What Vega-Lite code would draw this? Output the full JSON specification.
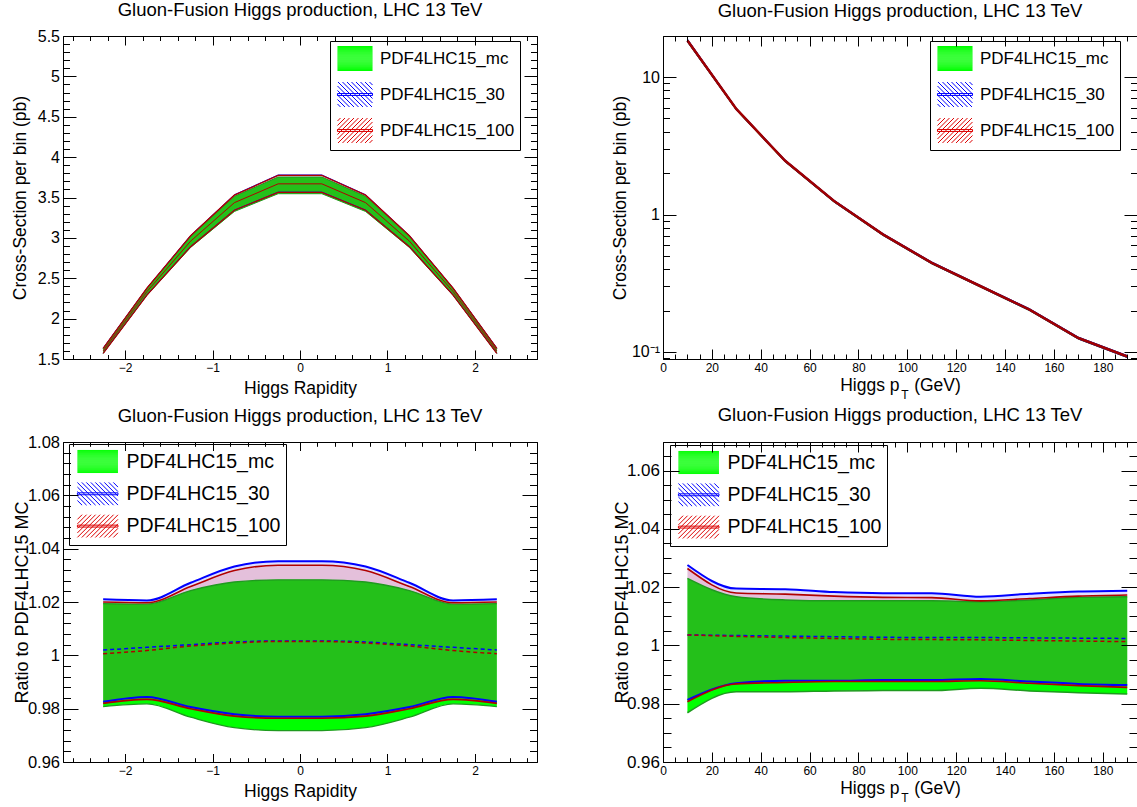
{
"$schema":"https://vega.github.io/schema/vega-lite/v6.json",
"autosize":{"type":"none"},
"padding":{"left":63,"top":36,"right":1074,"bottom":771},
"background":"white",
"columns":2,
"spacing":{"row":83,"column":126},
"bounds":"flush",
"resolve":{"scale":{"color":"independent","shape":"independent"},"legend":{"color":"independent","shape":"independent"}},
"datasets":{
"rapxs":[
{"x":-2.25,"mc_lo":1.569,"mc_hi":1.631,"mc_c":1.6,"p30_lo":1.572,"p30_hi":1.634,"p30_c":1.603,"p100_lo":1.571,"p100_hi":1.632,"p100_c":1.601},
{"x":-1.75,"mc_lo":2.288,"mc_hi":2.375,"mc_c":2.33,"p30_lo":2.294,"p30_hi":2.378,"p30_c":2.337,"p100_lo":2.292,"p100_hi":2.376,"p100_c":2.334},
{"x":-1.25,"mc_lo":2.882,"mc_hi":3.022,"mc_c":2.95,"p30_lo":2.893,"p30_hi":3.03,"p30_c":2.962,"p100_lo":2.891,"p100_hi":3.026,"p100_c":2.96},
{"x":-0.75,"mc_lo":3.327,"mc_hi":3.514,"mc_c":3.42,"p30_lo":3.344,"p30_hi":3.534,"p30_c":3.437,"p100_lo":3.342,"p100_hi":3.529,"p100_c":3.436},
{"x":-0.25,"mc_lo":3.547,"mc_hi":3.753,"mc_c":3.65,"p30_lo":3.566,"p30_hi":3.779,"p30_c":3.67,"p100_lo":3.564,"p100_hi":3.773,"p100_c":3.669},
{"x":0.25,"mc_lo":3.547,"mc_hi":3.753,"mc_c":3.65,"p30_lo":3.566,"p30_hi":3.779,"p30_c":3.67,"p100_lo":3.564,"p100_hi":3.773,"p100_c":3.669},
{"x":0.75,"mc_lo":3.327,"mc_hi":3.514,"mc_c":3.42,"p30_lo":3.344,"p30_hi":3.534,"p30_c":3.437,"p100_lo":3.342,"p100_hi":3.529,"p100_c":3.436},
{"x":1.25,"mc_lo":2.882,"mc_hi":3.022,"mc_c":2.95,"p30_lo":2.893,"p30_hi":3.03,"p30_c":2.962,"p100_lo":2.891,"p100_hi":3.026,"p100_c":2.96},
{"x":1.75,"mc_lo":2.288,"mc_hi":2.375,"mc_c":2.33,"p30_lo":2.294,"p30_hi":2.378,"p30_c":2.337,"p100_lo":2.292,"p100_hi":2.376,"p100_c":2.334},
{"x":2.25,"mc_lo":1.569,"mc_hi":1.631,"mc_c":1.6,"p30_lo":1.572,"p30_hi":1.634,"p30_c":1.603,"p100_lo":1.571,"p100_hi":1.632,"p100_c":1.601}
],
"rap":[
{"x":-2.25,"mc_lo":0.9808,"mc_hi":1.0194,"mc_c":1,"p30_lo":0.9826,"p30_hi":1.021,"p30_c":1.002,"p100_lo":0.982,"p100_hi":1.02,"p100_c":1.0006},
{"x":-1.75,"mc_lo":0.9818,"mc_hi":1.0192,"mc_c":1,"p30_lo":0.9844,"p30_hi":1.0206,"p30_c":1.003,"p100_lo":0.9835,"p100_hi":1.0197,"p100_c":1.0018},
{"x":-1.25,"mc_lo":0.9768,"mc_hi":1.0243,"mc_c":1,"p30_lo":0.9806,"p30_hi":1.0272,"p30_c":1.004,"p100_lo":0.98,"p100_hi":1.0258,"p100_c":1.0035},
{"x":-0.75,"mc_lo":0.9729,"mc_hi":1.0275,"mc_c":1,"p30_lo":0.9779,"p30_hi":1.0333,"p30_c":1.005,"p100_lo":0.9772,"p100_hi":1.0318,"p100_c":1.0046},
{"x":-0.25,"mc_lo":0.9718,"mc_hi":1.0283,"mc_c":1,"p30_lo":0.977,"p30_hi":1.0353,"p30_c":1.0054,"p100_lo":0.9764,"p100_hi":1.0338,"p100_c":1.0052},
{"x":0.25,"mc_lo":0.9718,"mc_hi":1.0283,"mc_c":1,"p30_lo":0.977,"p30_hi":1.0353,"p30_c":1.0054,"p100_lo":0.9764,"p100_hi":1.0338,"p100_c":1.0052},
{"x":0.75,"mc_lo":0.9729,"mc_hi":1.0275,"mc_c":1,"p30_lo":0.9779,"p30_hi":1.0333,"p30_c":1.005,"p100_lo":0.9772,"p100_hi":1.0318,"p100_c":1.0046},
{"x":1.25,"mc_lo":0.9768,"mc_hi":1.0243,"mc_c":1,"p30_lo":0.9806,"p30_hi":1.0272,"p30_c":1.004,"p100_lo":0.98,"p100_hi":1.0258,"p100_c":1.0035},
{"x":1.75,"mc_lo":0.9818,"mc_hi":1.0192,"mc_c":1,"p30_lo":0.9844,"p30_hi":1.0206,"p30_c":1.003,"p100_lo":0.9835,"p100_hi":1.0197,"p100_c":1.0018},
{"x":2.25,"mc_lo":0.9808,"mc_hi":1.0194,"mc_c":1,"p30_lo":0.9826,"p30_hi":1.021,"p30_c":1.002,"p100_lo":0.982,"p100_hi":1.02,"p100_c":1.0006}
],
"ptxs":[
{"x":10,"mc_lo":17.97,"mc_hi":18.82,"mc_c":18.4,"p30_lo":18.06,"p30_hi":18.91,"p30_c":18.47,"p100_lo":18.05,"p100_hi":18.89,"p100_c":18.47},
{"x":30,"mc_lo":5.747,"mc_hi":5.938,"mc_c":5.84,"p30_lo":5.764,"p30_hi":5.952,"p30_c":5.86,"p100_lo":5.763,"p100_hi":5.945,"p100_c":5.858},
{"x":50,"mc_lo":2.411,"mc_hi":2.488,"mc_c":2.45,"p30_lo":2.42,"p30_hi":2.497,"p30_c":2.458,"p100_lo":2.419,"p100_hi":2.493,"p100_c":2.457},
{"x":70,"mc_lo":1.2305,"mc_hi":1.269,"mc_c":1.25,"p30_lo":1.235,"p30_hi":1.273,"p30_c":1.254,"p100_lo":1.2345,"p100_hi":1.271,"p100_c":1.253},
{"x":90,"mc_lo":0.7039,"mc_hi":0.7259,"mc_c":0.715,"p30_lo":0.7065,"p30_hi":0.7278,"p30_c":0.717,"p100_lo":0.7061,"p100_hi":0.7268,"p100_c":0.7165},
{"x":110,"mc_lo":0.4371,"mc_hi":0.4508,"mc_c":0.444,"p30_lo":0.4387,"p30_hi":0.4519,"p30_c":0.4452,"p100_lo":0.4385,"p100_hi":0.4513,"p100_c":0.4449},
{"x":130,"mc_lo":0.2956,"mc_hi":0.3045,"mc_c":0.3,"p30_lo":0.2966,"p30_hi":0.305,"p30_c":0.3008,"p100_lo":0.2964,"p100_hi":0.3046,"p100_c":0.3006},
{"x":150,"mc_lo":0.1998,"mc_hi":0.2062,"mc_c":0.203,"p30_lo":0.2005,"p30_hi":0.2066,"p30_c":0.2035,"p100_lo":0.2004,"p100_hi":0.2063,"p100_c":0.2033},
{"x":170,"mc_lo":0.124,"mc_hi":0.1281,"mc_c":0.126,"p30_lo":0.1243,"p30_hi":0.1283,"p30_c":0.1263,"p100_lo":0.1243,"p100_hi":0.1281,"p100_c":0.1262},
{"x":190,"mc_lo":0.091,"mc_hi":0.094,"mc_c":0.0925,"p30_lo":0.0912,"p30_hi":0.0942,"p30_c":0.0927,"p100_lo":0.0912,"p100_hi":0.0941,"p100_c":0.0926}
],
"pt":[
{"x":10,"mc_lo":0.9769,"mc_hi":1.023,"mc_c":1,"p30_lo":0.9813,"p30_hi":1.0276,"p30_c":1.0036,"p100_lo":0.9807,"p100_hi":1.0264,"p100_c":1.0036},
{"x":30,"mc_lo":0.9841,"mc_hi":1.0167,"mc_c":1,"p30_lo":0.987,"p30_hi":1.0195,"p30_c":1.0034,"p100_lo":0.9868,"p100_hi":1.018,"p100_c":1.0031},
{"x":50,"mc_lo":0.9841,"mc_hi":1.0156,"mc_c":1,"p30_lo":0.9879,"p30_hi":1.0193,"p30_c":1.0032,"p100_lo":0.9873,"p100_hi":1.0176,"p100_c":1.0027},
{"x":70,"mc_lo":0.9844,"mc_hi":1.0153,"mc_c":1,"p30_lo":0.9879,"p30_hi":1.0183,"p30_c":1.003,"p100_lo":0.9876,"p100_hi":1.0169,"p100_c":1.0024},
{"x":90,"mc_lo":0.9845,"mc_hi":1.0153,"mc_c":1,"p30_lo":0.9881,"p30_hi":1.0179,"p30_c":1.0028,"p100_lo":0.9876,"p100_hi":1.0165,"p100_c":1.0021},
{"x":110,"mc_lo":0.9845,"mc_hi":1.0153,"mc_c":1,"p30_lo":0.9881,"p30_hi":1.0179,"p30_c":1.0027,"p100_lo":0.9876,"p100_hi":1.0164,"p100_c":1.002},
{"x":130,"mc_lo":0.9853,"mc_hi":1.015,"mc_c":1,"p30_lo":0.9885,"p30_hi":1.0167,"p30_c":1.0027,"p100_lo":0.9879,"p100_hi":1.0153,"p100_c":1.0019},
{"x":150,"mc_lo":0.9844,"mc_hi":1.0156,"mc_c":1,"p30_lo":0.9876,"p30_hi":1.0177,"p30_c":1.0026,"p100_lo":0.987,"p100_hi":1.0161,"p100_c":1.0017},
{"x":170,"mc_lo":0.9838,"mc_hi":1.0165,"mc_c":1,"p30_lo":0.9868,"p30_hi":1.0185,"p30_c":1.0025,"p100_lo":0.9862,"p100_hi":1.0169,"p100_c":1.0015},
{"x":190,"mc_lo":0.9833,"mc_hi":1.0167,"mc_c":1,"p30_lo":0.9864,"p30_hi":1.0188,"p30_c":1.0024,"p100_lo":0.9856,"p100_hi":1.0173,"p100_c":1.0013}
]
},
"concat":[
{
"width":474,"height":323,
"data":{"name":"rapxs"},
"title":{"text":"Gluon-Fusion Higgs production, LHC 13 TeV","offset":9},
"resolve":{"axis":{"x":"independent","y":"independent"}},
"layer":[
{"mark":{"type":"area","color":"#00ff00","opacity":1},
"encoding":{
"x":{"field":"x","type":"quantitative","scale":{"domain":[-2.709,2.709],"nice":false,"zero":false},"axis":{"orient":"bottom","values":[-2,-1,0,1,2],"tickSize":-9,"labelPadding":12,"labelFontSize":12,"format":"~g","title":"Higgs Rapidity","titleX":237,"titleY":34,"titleFontSize":17.5,"titleBaseline":"alphabetic","zindex":1}},
"y":{"field":"mc_lo","type":"quantitative","scale":{"domain":[1.5,5.5],"nice":false,"zero":false},"axis":{"orient":"left","values":[1.5,2,2.5,3,3.5,4,4.5,5,5.5],"tickSize":-13,"labelPadding":16.5,"labelFontSize":16,"format":"~g","title":"Cross-Section per bin (pb)","titleX":-37.5,"titleY":161.5,"titleFontSize":17.5,"titleBaseline":"alphabetic","zindex":1}},
"y2":{"field":"mc_hi"}}},
{"mark":{"type":"area","color":"#0000ff","opacity":0.12},
"encoding":{
"x":{"field":"x","type":"quantitative","scale":{"domain":[-2.709,2.709],"nice":false,"zero":false},"axis":{"orient":"bottom","values":[-2.6,-2.4,-2.2,-2,-1.8,-1.6,-1.4,-1.2,-1,-0.8,-0.6,-0.4,-0.2,0,0.2,0.4,0.6,0.8,1,1.2,1.4,1.6,1.8,2,2.2,2.4,2.6],"tickSize":-4.5,"labels":false,"title":null,"zindex":1}},
"y":{"field":"p30_lo","type":"quantitative","scale":{"domain":[1.5,5.5],"nice":false,"zero":false},"axis":{"orient":"left","values":[1.5,1.6,1.7,1.8,1.9,2,2.1,2.2,2.3,2.4,2.5,2.6,2.7,2.8,2.9,3,3.1,3.2,3.3,3.4,3.5,3.6,3.7,3.8,3.9,4,4.1,4.2,4.3,4.4,4.5,4.6,4.7,4.8,4.9,5,5.1,5.2,5.3,5.4,5.5],"tickSize":-6.5,"labels":false,"title":null,"zindex":1}},
"y2":{"field":"p30_hi"}}},
{"mark":{"type":"area","color":"#ff0000","opacity":0.14},
"encoding":{
"x":{"field":"x","type":"quantitative","scale":{"domain":[-2.709,2.709],"nice":false,"zero":false},"axis":{"orient":"top","values":[-2,-1,0,1,2],"tickSize":-9,"labels":false,"title":null,"zindex":1}},
"y":{"field":"p100_lo","type":"quantitative","scale":{"domain":[1.5,5.5],"nice":false,"zero":false},"axis":{"orient":"right","values":[1.5,2,2.5,3,3.5,4,4.5,5,5.5],"tickSize":-13,"labels":false,"title":null,"zindex":1}},
"y2":{"field":"p100_hi"}}},
{"transform":[{"fold":["mc_lo","mc_hi"],"as":["edge","v"]}],
"mark":{"type":"line","color":"#1f9a1f","strokeWidth":1},
"encoding":{
"x":{"field":"x","type":"quantitative","scale":{"domain":[-2.709,2.709],"nice":false,"zero":false},"axis":{"orient":"top","values":[-2.6,-2.4,-2.2,-2,-1.8,-1.6,-1.4,-1.2,-1,-0.8,-0.6,-0.4,-0.2,0,0.2,0.4,0.6,0.8,1,1.2,1.4,1.6,1.8,2,2.2,2.4,2.6],"tickSize":-4.5,"labels":false,"title":null,"zindex":1}},
"y":{"field":"v","type":"quantitative","scale":{"domain":[1.5,5.5],"nice":false,"zero":false},"axis":{"orient":"right","values":[1.5,1.6,1.7,1.8,1.9,2,2.1,2.2,2.3,2.4,2.5,2.6,2.7,2.8,2.9,3,3.1,3.2,3.3,3.4,3.5,3.6,3.7,3.8,3.9,4,4.1,4.2,4.3,4.4,4.5,4.6,4.7,4.8,4.9,5,5.1,5.2,5.3,5.4,5.5],"tickSize":-6.5,"labels":false,"title":null,"zindex":1}},
"detail":{"field":"edge"}}},
{"transform":[{"fold":["p30_lo","p30_hi"],"as":["edge","v"]}],
"mark":{"type":"line","color":"#0000ff","strokeWidth":1},
"encoding":{
"x":{"field":"x","type":"quantitative","axis":null},
"y":{"field":"v","type":"quantitative","axis":null},
"detail":{"field":"edge"}}},
{"transform":[{"fold":["p100_lo","p100_hi"],"as":["edge","v"]}],
"mark":{"type":"line","color":"#b00000","strokeWidth":1.3},
"encoding":{
"x":{"field":"x","type":"quantitative","axis":null},
"y":{"field":"v","type":"quantitative","axis":null},
"detail":{"field":"edge"}}},
{"mark":{"type":"line","color":"#b00000","strokeWidth":1},
"encoding":{
"x":{"field":"x","type":"quantitative","axis":null},
"y":{"field":"p100_c","type":"quantitative","axis":null}}},
{"transform":[{"filter":"false"}],
"mark":{"type":"point","filled":false,"opacity":1},
"encoding":{
"color":{"field":"pdf","type":"nominal","scale":{"domain":["PDF4LHC15_mc","PDF4LHC15_30","PDF4LHC15_100"],"range":["#00ff00","#0000ff","#dd0000"]},
"legend":{"orient":"none","legendX":267,"legendY":5,"title":null,"padding":5,"strokeColor":"black","fillColor":"white","symbolSize":576,"symbolStrokeWidth":1,"symbolOffset":7.5,"labelOffset":12.5,"labelFontSize":17,"labelColor":"black","rowPadding":7,"labelLimit":400,"labelExpr":"datum.label + '\u00a0\u00a0\u00a0\u00a0\u00a0'"}},
"shape":{"field":"pdf","type":"nominal","scale":{"domain":["PDF4LHC15_mc","PDF4LHC15_30","PDF4LHC15_100"],"range":[
"M-1.46,-1H1.46M-1.46,-0.92H1.46M-1.46,-0.84H1.46M-1.46,-0.76H1.46M-1.46,-0.68H1.46M-1.46,-0.6H1.46M-1.46,-0.52H1.46M-1.46,-0.44H1.46M-1.46,-0.36H1.46M-1.46,-0.28H1.46M-1.46,-0.2H1.46M-1.46,-0.12H1.46M-1.46,-0.04H1.46M-1.46,0.04H1.46M-1.46,0.12H1.46M-1.46,0.2H1.46M-1.46,0.28H1.46M-1.46,0.36H1.46M-1.46,0.44H1.46M-1.46,0.52H1.46M-1.46,0.6H1.46M-1.46,0.68H1.46M-1.46,0.76H1.46M-1.46,0.84H1.46M-1.46,0.92H1.46M-1.46,1H1.46",
"M-1.46,0.79L-1.21,1.04M-1.46,0.415L-0.835,1.04M-1.46,0.04L-0.46,1.04M-1.46,-0.335L-0.085,1.04M-1.46,-0.71L0.29,1.04M-1.415,-1.04L0.665,1.04M-1.04,-1.04L1.04,1.04M-0.665,-1.04L1.415,1.04M-0.29,-1.04L1.46,0.71M0.085,-1.04L1.46,0.335M0.46,-1.04L1.46,-0.04M0.835,-1.04L1.46,-0.415M1.21,-1.04L1.46,-0.79M-1.46,-0.08H1.46V0.08H-1.46Z",
"M1.46,0.79L1.21,1.04M1.46,0.415L0.835,1.04M1.46,0.04L0.46,1.04M1.46,-0.335L0.085,1.04M1.46,-0.71L-0.29,1.04M1.415,-1.04L-0.665,1.04M1.04,-1.04L-1.04,1.04M0.665,-1.04L-1.415,1.04M0.29,-1.04L-1.46,0.71M-0.085,-1.04L-1.46,0.335M-0.46,-1.04L-1.46,-0.04M-0.835,-1.04L-1.46,-0.415M-1.21,-1.04L-1.46,-0.79M-1.46,-0.08H1.46V0.08H-1.46Z"]},
"legend":{"orient":"none","legendX":267,"legendY":5,"title":null,"padding":5,"strokeColor":"black","fillColor":"white","symbolSize":576,"symbolStrokeWidth":1,"symbolOffset":7.5,"labelOffset":12.5,"labelFontSize":17,"labelColor":"black","rowPadding":7,"labelLimit":400,"labelExpr":"datum.label + '\u00a0\u00a0\u00a0\u00a0\u00a0'"}}}}
]
},
{
"width":474,"height":323,
"data":{"name":"ptxs"},
"title":{"text":"Gluon-Fusion Higgs production, LHC 13 TeV","offset":15},
"resolve":{"axis":{"x":"independent","y":"independent"}},
"layer":[
{"mark":{"type":"area","color":"#00ff00","opacity":1},
"encoding":{
"x":{"field":"x","type":"quantitative","scale":{"domain":[0,194],"nice":false,"zero":false},"axis":{"orient":"bottom","values":[0,20,40,60,80,100,120,140,160,180],"tickSize":-10,"labelPadding":13,"labelFontSize":12,"format":"d","title":"Higgs p\u00a0\u00a0\u00a0(GeV)","titleX":237,"titleY":31,"titleFontSize":17.5,"titleBaseline":"alphabetic","zindex":1}},
"y":{"field":"mc_lo","type":"quantitative","scale":{"type":"log","domain":[0.0889,19.9],"nice":false},"axis":{"orient":"left","values":[0.1,1,10],"tickSize":-13,"labelPadding":16.5,"labelFontSize":16,"labelExpr":"datum.value < 0.5 ? '10⁻¹' : (datum.value < 5 ? '1' : '10')","title":"Cross-Section per bin (pb)","titleX":-38,"titleY":161.5,"titleFontSize":17.5,"titleBaseline":"alphabetic","zindex":1}},
"y2":{"field":"mc_hi"}}},
{"mark":{"type":"area","color":"#0000ff","opacity":0.12},
"encoding":{
"x":{"field":"x","type":"quantitative","scale":{"domain":[0,194],"nice":false,"zero":false},"axis":{"orient":"bottom","values":[0,5,10,15,20,25,30,35,40,45,50,55,60,65,70,75,80,85,90,95,100,105,110,115,120,125,130,135,140,145,150,155,160,165,170,175,180,185,190],"tickSize":-5,"labels":false,"title":"T","titleX":241.5,"titleY":39,"titleFontSize":12,"titleBaseline":"alphabetic","zindex":1}},
"y":{"field":"p30_lo","type":"quantitative","scale":{"type":"log","domain":[0.0889,19.9],"nice":false},"axis":{"orient":"left","values":[0.09,0.2,0.3,0.4,0.5,0.6,0.7,0.8,0.9,2,3,4,5,6,7,8,9],"tickSize":-6.5,"labels":false,"title":null,"zindex":1}},
"y2":{"field":"p30_hi"}}},
{"mark":{"type":"area","color":"#ff0000","opacity":0.14},
"encoding":{
"x":{"field":"x","type":"quantitative","scale":{"domain":[0,194],"nice":false,"zero":false},"axis":{"orient":"top","values":[0,20,40,60,80,100,120,140,160,180],"tickSize":-10,"labels":false,"title":null,"zindex":1}},
"y":{"field":"p100_lo","type":"quantitative","scale":{"type":"log","domain":[0.0889,19.9],"nice":false},"axis":{"orient":"right","values":[0.1,1,10],"tickSize":-13,"labels":false,"title":null,"zindex":1}},
"y2":{"field":"p100_hi"}}},
{"transform":[{"fold":["mc_lo","mc_hi"],"as":["edge","v"]}],
"mark":{"type":"line","color":"#1f9a1f","strokeWidth":1},
"encoding":{
"x":{"field":"x","type":"quantitative","scale":{"domain":[0,194],"nice":false,"zero":false},"axis":{"orient":"top","values":[0,5,10,15,20,25,30,35,40,45,50,55,60,65,70,75,80,85,90,95,100,105,110,115,120,125,130,135,140,145,150,155,160,165,170,175,180,185,190],"tickSize":-5,"labels":false,"title":null,"zindex":1}},
"y":{"field":"v","type":"quantitative","scale":{"type":"log","domain":[0.0889,19.9],"nice":false},"axis":{"orient":"right","values":[0.09,0.2,0.3,0.4,0.5,0.6,0.7,0.8,0.9,2,3,4,5,6,7,8,9],"tickSize":-6.5,"labels":false,"title":null,"zindex":1}},
"detail":{"field":"edge"}}},
{"transform":[{"fold":["p30_lo","p30_hi"],"as":["edge","v"]}],
"mark":{"type":"line","color":"#0000ff","strokeWidth":1},
"encoding":{
"x":{"field":"x","type":"quantitative","axis":null},
"y":{"field":"v","type":"quantitative","axis":null},
"detail":{"field":"edge"}}},
{"mark":{"type":"line","color":"#a00000","strokeWidth":2.6},
"encoding":{
"x":{"field":"x","type":"quantitative","axis":null},
"y":{"field":"p100_c","type":"quantitative","axis":null}}},
{"transform":[{"filter":"false"}],
"mark":{"type":"point","filled":false,"opacity":1},
"encoding":{
"color":{"field":"pdf","type":"nominal","scale":{"domain":["PDF4LHC15_mc","PDF4LHC15_30","PDF4LHC15_100"],"range":["#00ff00","#0000ff","#dd0000"]},
"legend":{"orient":"none","legendX":267,"legendY":5,"title":null,"padding":5,"strokeColor":"black","fillColor":"white","symbolSize":576,"symbolStrokeWidth":1,"symbolOffset":7.5,"labelOffset":12.5,"labelFontSize":17,"labelColor":"black","rowPadding":7,"labelLimit":400,"labelExpr":"datum.label + '\u00a0\u00a0\u00a0\u00a0\u00a0'"}},
"shape":{"field":"pdf","type":"nominal","scale":{"domain":["PDF4LHC15_mc","PDF4LHC15_30","PDF4LHC15_100"],"range":[
"M-1.46,-1H1.46M-1.46,-0.92H1.46M-1.46,-0.84H1.46M-1.46,-0.76H1.46M-1.46,-0.68H1.46M-1.46,-0.6H1.46M-1.46,-0.52H1.46M-1.46,-0.44H1.46M-1.46,-0.36H1.46M-1.46,-0.28H1.46M-1.46,-0.2H1.46M-1.46,-0.12H1.46M-1.46,-0.04H1.46M-1.46,0.04H1.46M-1.46,0.12H1.46M-1.46,0.2H1.46M-1.46,0.28H1.46M-1.46,0.36H1.46M-1.46,0.44H1.46M-1.46,0.52H1.46M-1.46,0.6H1.46M-1.46,0.68H1.46M-1.46,0.76H1.46M-1.46,0.84H1.46M-1.46,0.92H1.46M-1.46,1H1.46",
"M-1.46,0.79L-1.21,1.04M-1.46,0.415L-0.835,1.04M-1.46,0.04L-0.46,1.04M-1.46,-0.335L-0.085,1.04M-1.46,-0.71L0.29,1.04M-1.415,-1.04L0.665,1.04M-1.04,-1.04L1.04,1.04M-0.665,-1.04L1.415,1.04M-0.29,-1.04L1.46,0.71M0.085,-1.04L1.46,0.335M0.46,-1.04L1.46,-0.04M0.835,-1.04L1.46,-0.415M1.21,-1.04L1.46,-0.79M-1.46,-0.08H1.46V0.08H-1.46Z",
"M1.46,0.79L1.21,1.04M1.46,0.415L0.835,1.04M1.46,0.04L0.46,1.04M1.46,-0.335L0.085,1.04M1.46,-0.71L-0.29,1.04M1.415,-1.04L-0.665,1.04M1.04,-1.04L-1.04,1.04M0.665,-1.04L-1.415,1.04M0.29,-1.04L-1.46,0.71M-0.085,-1.04L-1.46,0.335M-0.46,-1.04L-1.46,-0.04M-0.835,-1.04L-1.46,-0.415M-1.21,-1.04L-1.46,-0.79M-1.46,-0.08H1.46V0.08H-1.46Z"]},
"legend":{"orient":"none","legendX":267,"legendY":5,"title":null,"padding":5,"strokeColor":"black","fillColor":"white","symbolSize":576,"symbolStrokeWidth":1,"symbolOffset":7.5,"labelOffset":12.5,"labelFontSize":17,"labelColor":"black","rowPadding":7,"labelLimit":400,"labelExpr":"datum.label + '\u00a0\u00a0\u00a0\u00a0\u00a0'"}}}}
]
},
{
"width":474,"height":320,
"data":{"name":"rap"},
"title":{"text":"Gluon-Fusion Higgs production, LHC 13 TeV","offset":9},
"resolve":{"axis":{"x":"independent","y":"independent"}},
"layer":[
{"mark":{"type":"area","color":"#00ff00","opacity":1,"interpolate":"monotone"},
"encoding":{
"x":{"field":"x","type":"quantitative","scale":{"domain":[-2.709,2.709],"nice":false,"zero":false},"axis":{"orient":"bottom","values":[-2,-1,0,1,2],"tickSize":-8.5,"labelPadding":11.5,"labelFontSize":12,"format":"~g","title":"Higgs Rapidity","titleX":237,"titleY":34.5,"titleFontSize":17.5,"titleBaseline":"alphabetic","zindex":1}},
"y":{"field":"mc_lo","type":"quantitative","scale":{"domain":[0.96,1.08],"nice":false,"zero":false},"axis":{"orient":"left","values":[0.96,0.98,1,1.02,1.04,1.06,1.08],"tickSize":-15,"labelPadding":18.5,"labelFontSize":16.5,"format":"~g","title":"Ratio to PDF4LHC15 MC","titleX":-35.7,"titleY":160,"titleFontSize":18,"titleBaseline":"alphabetic","zindex":1}},
"y2":{"field":"mc_hi"}}},
{"mark":{"type":"area","color":"#0000ff","opacity":0.12,"interpolate":"monotone"},
"encoding":{
"x":{"field":"x","type":"quantitative","scale":{"domain":[-2.709,2.709],"nice":false,"zero":false},"axis":{"orient":"bottom","values":[-2.6,-2.4,-2.2,-2,-1.8,-1.6,-1.4,-1.2,-1,-0.8,-0.6,-0.4,-0.2,0,0.2,0.4,0.6,0.8,1,1.2,1.4,1.6,1.8,2,2.2,2.4,2.6],"tickSize":-4.3,"labels":false,"title":null,"zindex":1}},
"y":{"field":"p30_lo","type":"quantitative","scale":{"domain":[0.96,1.08],"nice":false,"zero":false},"axis":{"orient":"left","values":[0.96,0.964,0.968,0.972,0.976,0.98,0.984,0.988,0.992,0.996,1,1.004,1.008,1.012,1.016,1.02,1.024,1.028,1.032,1.036,1.04,1.044,1.048,1.052,1.056,1.06,1.064,1.068,1.072,1.076,1.08],"tickSize":-7.5,"labels":false,"title":null,"zindex":1}},
"y2":{"field":"p30_hi"}}},
{"mark":{"type":"area","color":"#ff0000","opacity":0.14,"interpolate":"monotone"},
"encoding":{
"x":{"field":"x","type":"quantitative","scale":{"domain":[-2.709,2.709],"nice":false,"zero":false},"axis":{"orient":"top","values":[-2,-1,0,1,2],"tickSize":-8.5,"labels":false,"title":null,"zindex":1}},
"y":{"field":"p100_lo","type":"quantitative","scale":{"domain":[0.96,1.08],"nice":false,"zero":false},"axis":{"orient":"right","values":[0.96,0.98,1,1.02,1.04,1.06,1.08],"tickSize":-15,"labels":false,"title":null,"zindex":1}},
"y2":{"field":"p100_hi"}}},
{"transform":[{"fold":["mc_lo","mc_hi"],"as":["edge","v"]}],
"mark":{"type":"line","color":"#1f9a1f","strokeWidth":1.3,"interpolate":"monotone"},
"encoding":{
"x":{"field":"x","type":"quantitative","scale":{"domain":[-2.709,2.709],"nice":false,"zero":false},"axis":{"orient":"top","values":[-2.6,-2.4,-2.2,-2,-1.8,-1.6,-1.4,-1.2,-1,-0.8,-0.6,-0.4,-0.2,0,0.2,0.4,0.6,0.8,1,1.2,1.4,1.6,1.8,2,2.2,2.4,2.6],"tickSize":-4.3,"labels":false,"title":null,"zindex":1}},
"y":{"field":"v","type":"quantitative","scale":{"domain":[0.96,1.08],"nice":false,"zero":false},"axis":{"orient":"right","values":[0.96,0.964,0.968,0.972,0.976,0.98,0.984,0.988,0.992,0.996,1,1.004,1.008,1.012,1.016,1.02,1.024,1.028,1.032,1.036,1.04,1.044,1.048,1.052,1.056,1.06,1.064,1.068,1.072,1.076,1.08],"tickSize":-7.5,"labels":false,"title":null,"zindex":1}},
"detail":{"field":"edge"}}},
{"transform":[{"fold":["p30_lo","p30_hi"],"as":["edge","v"]}],
"mark":{"type":"line","color":"#0000ff","strokeWidth":2,"interpolate":"monotone"},
"encoding":{
"x":{"field":"x","type":"quantitative","axis":null},
"y":{"field":"v","type":"quantitative","axis":null},
"detail":{"field":"edge"}}},
{"transform":[{"fold":["p100_lo","p100_hi"],"as":["edge","v"]}],
"mark":{"type":"line","color":"#b00000","strokeWidth":1.6,"interpolate":"monotone"},
"encoding":{
"x":{"field":"x","type":"quantitative","axis":null},
"y":{"field":"v","type":"quantitative","axis":null},
"detail":{"field":"edge"}}},
{"mark":{"type":"line","color":"#0000ff","strokeWidth":1.5,"strokeDash":[4,3],"interpolate":"monotone"},
"encoding":{
"x":{"field":"x","type":"quantitative","axis":null},
"y":{"field":"p30_c","type":"quantitative","axis":null}}},
{"mark":{"type":"line","color":"#b00000","strokeWidth":1.5,"strokeDash":[4,3],"interpolate":"monotone"},
"encoding":{
"x":{"field":"x","type":"quantitative","axis":null},
"y":{"field":"p100_c","type":"quantitative","axis":null}}},
{"transform":[{"filter":"false"}],
"mark":{"type":"point","filled":false,"opacity":1},
"encoding":{
"color":{"field":"pdf","type":"nominal","scale":{"domain":["PDF4LHC15_mc","PDF4LHC15_30","PDF4LHC15_100"],"range":["#00ff00","#0000ff","#dd0000"]},
"legend":{"orient":"none","legendX":6,"legendY":2,"title":null,"padding":5,"strokeColor":"black","fillColor":"white","symbolSize":576,"symbolStrokeWidth":1,"symbolOffset":11.2,"labelOffset":16.3,"labelFontSize":19.5,"labelColor":"black","rowPadding":5.3,"labelLimit":400,"labelExpr":"datum.label + '\u00a0\u00a0\u00a0\u00a0\u00a0'"}},
"shape":{"field":"pdf","type":"nominal","scale":{"domain":["PDF4LHC15_mc","PDF4LHC15_30","PDF4LHC15_100"],"range":[
"M-1.69,-0.92H1.69M-1.69,-0.84H1.69M-1.69,-0.76H1.69M-1.69,-0.68H1.69M-1.69,-0.6H1.69M-1.69,-0.52H1.69M-1.69,-0.44H1.69M-1.69,-0.36H1.69M-1.69,-0.28H1.69M-1.69,-0.2H1.69M-1.69,-0.12H1.69M-1.69,-0.04H1.69M-1.69,0.04H1.69M-1.69,0.12H1.69M-1.69,0.2H1.69M-1.69,0.28H1.69M-1.69,0.36H1.69M-1.69,0.44H1.69M-1.69,0.52H1.69M-1.69,0.6H1.69M-1.69,0.68H1.69M-1.69,0.76H1.69M-1.69,0.84H1.69M-1.69,0.92H1.69",
"M-1.69,0.56L-1.3,0.95M-1.69,0.185L-0.925,0.95M-1.69,-0.19L-0.55,0.95M-1.69,-0.565L-0.175,0.95M-1.69,-0.94L0.2,0.95M-1.325,-0.95L0.575,0.95M-0.95,-0.95L0.95,0.95M-0.575,-0.95L1.325,0.95M-0.2,-0.95L1.69,0.94M0.175,-0.95L1.69,0.565M0.55,-0.95L1.69,0.19M0.925,-0.95L1.69,-0.185M1.3,-0.95L1.69,-0.56M-1.69,-0.08H1.69V0.08H-1.69Z",
"M1.69,0.56L1.3,0.95M1.69,0.185L0.925,0.95M1.69,-0.19L0.55,0.95M1.69,-0.565L0.175,0.95M1.69,-0.94L-0.2,0.95M1.325,-0.95L-0.575,0.95M0.95,-0.95L-0.95,0.95M0.575,-0.95L-1.325,0.95M0.2,-0.95L-1.69,0.94M-0.175,-0.95L-1.69,0.565M-0.55,-0.95L-1.69,0.19M-0.925,-0.95L-1.69,-0.185M-1.3,-0.95L-1.69,-0.56M-1.69,-0.08H1.69V0.08H-1.69Z"]},
"legend":{"orient":"none","legendX":6,"legendY":2,"title":null,"padding":5,"strokeColor":"black","fillColor":"white","symbolSize":576,"symbolStrokeWidth":1,"symbolOffset":11.2,"labelOffset":16.3,"labelFontSize":19.5,"labelColor":"black","rowPadding":5.3,"labelLimit":400,"labelExpr":"datum.label + '\u00a0\u00a0\u00a0\u00a0\u00a0'"}}}}
]
},
{
"width":474,"height":320,
"data":{"name":"pt"},
"title":{"text":"Gluon-Fusion Higgs production, LHC 13 TeV","offset":17},
"resolve":{"axis":{"x":"independent","y":"independent"}},
"layer":[
{"mark":{"type":"area","color":"#00ff00","opacity":1,"interpolate":"monotone"},
"encoding":{
"x":{"field":"x","type":"quantitative","scale":{"domain":[0,194],"nice":false,"zero":false},"axis":{"orient":"bottom","values":[0,20,40,60,80,100,120,140,160,180],"tickSize":-10,"labelPadding":13,"labelFontSize":12,"format":"d","title":"Higgs p\u00a0\u00a0\u00a0(GeV)","titleX":237,"titleY":31.3,"titleFontSize":17.5,"titleBaseline":"alphabetic","zindex":1}},
"y":{"field":"mc_lo","type":"quantitative","scale":{"domain":[0.96,1.0698],"nice":false,"zero":false},"axis":{"orient":"left","values":[0.96,0.98,1,1.02,1.04,1.06],"tickSize":-16,"labelPadding":19.5,"labelFontSize":17,"format":"~g","title":"Ratio to PDF4LHC15 MC","titleX":-36,"titleY":160,"titleFontSize":18,"titleBaseline":"alphabetic","zindex":1}},
"y2":{"field":"mc_hi"}}},
{"mark":{"type":"area","color":"#0000ff","opacity":0.12,"interpolate":"monotone"},
"encoding":{
"x":{"field":"x","type":"quantitative","scale":{"domain":[0,194],"nice":false,"zero":false},"axis":{"orient":"bottom","values":[0,5,10,15,20,25,30,35,40,45,50,55,60,65,70,75,80,85,90,95,100,105,110,115,120,125,130,135,140,145,150,155,160,165,170,175,180,185,190],"tickSize":-5,"labels":false,"title":"T","titleX":241.5,"titleY":39.7,"titleFontSize":12,"titleBaseline":"alphabetic","zindex":1}},
"y":{"field":"p30_lo","type":"quantitative","scale":{"domain":[0.96,1.0698],"nice":false,"zero":false},"axis":{"orient":"left","values":[0.96,0.965,0.97,0.975,0.98,0.985,0.99,0.995,1,1.005,1.01,1.015,1.02,1.025,1.03,1.035,1.04,1.045,1.05,1.055,1.06,1.065],"tickSize":-8,"labels":false,"title":null,"zindex":1}},
"y2":{"field":"p30_hi"}}},
{"mark":{"type":"area","color":"#ff0000","opacity":0.14,"interpolate":"monotone"},
"encoding":{
"x":{"field":"x","type":"quantitative","scale":{"domain":[0,194],"nice":false,"zero":false},"axis":{"orient":"top","values":[0,20,40,60,80,100,120,140,160,180],"tickSize":-10,"labels":false,"title":null,"zindex":1}},
"y":{"field":"p100_lo","type":"quantitative","scale":{"domain":[0.96,1.0698],"nice":false,"zero":false},"axis":{"orient":"right","values":[0.96,0.98,1,1.02,1.04,1.06],"tickSize":-16,"labels":false,"title":null,"zindex":1}},
"y2":{"field":"p100_hi"}}},
{"transform":[{"fold":["mc_lo","mc_hi"],"as":["edge","v"]}],
"mark":{"type":"line","color":"#1f9a1f","strokeWidth":1.5,"interpolate":"monotone"},
"encoding":{
"x":{"field":"x","type":"quantitative","scale":{"domain":[0,194],"nice":false,"zero":false},"axis":{"orient":"top","values":[0,5,10,15,20,25,30,35,40,45,50,55,60,65,70,75,80,85,90,95,100,105,110,115,120,125,130,135,140,145,150,155,160,165,170,175,180,185,190],"tickSize":-5,"labels":false,"title":null,"zindex":1}},
"y":{"field":"v","type":"quantitative","scale":{"domain":[0.96,1.0698],"nice":false,"zero":false},"axis":{"orient":"right","values":[0.96,0.965,0.97,0.975,0.98,0.985,0.99,0.995,1,1.005,1.01,1.015,1.02,1.025,1.03,1.035,1.04,1.045,1.05,1.055,1.06,1.065],"tickSize":-8,"labels":false,"title":null,"zindex":1}},
"detail":{"field":"edge"}}},
{"transform":[{"fold":["p30_lo","p30_hi"],"as":["edge","v"]}],
"mark":{"type":"line","color":"#0000ff","strokeWidth":2,"interpolate":"monotone"},
"encoding":{
"x":{"field":"x","type":"quantitative","axis":null},
"y":{"field":"v","type":"quantitative","axis":null},
"detail":{"field":"edge"}}},
{"transform":[{"fold":["p100_lo","p100_hi"],"as":["edge","v"]}],
"mark":{"type":"line","color":"#b00000","strokeWidth":1.6,"interpolate":"monotone"},
"encoding":{
"x":{"field":"x","type":"quantitative","axis":null},
"y":{"field":"v","type":"quantitative","axis":null},
"detail":{"field":"edge"}}},
{"mark":{"type":"line","color":"#0000ff","strokeWidth":1.5,"strokeDash":[4,3],"interpolate":"monotone"},
"encoding":{
"x":{"field":"x","type":"quantitative","axis":null},
"y":{"field":"p30_c","type":"quantitative","axis":null}}},
{"mark":{"type":"line","color":"#b00000","strokeWidth":1.5,"strokeDash":[4,3],"interpolate":"monotone"},
"encoding":{
"x":{"field":"x","type":"quantitative","axis":null},
"y":{"field":"p100_c","type":"quantitative","axis":null}}},
{"transform":[{"filter":"false"}],
"mark":{"type":"point","filled":false,"opacity":1},
"encoding":{
"color":{"field":"pdf","type":"nominal","scale":{"domain":["PDF4LHC15_mc","PDF4LHC15_30","PDF4LHC15_100"],"range":["#00ff00","#0000ff","#dd0000"]},
"legend":{"orient":"none","legendX":7,"legendY":3,"title":null,"padding":5,"strokeColor":"black","fillColor":"white","symbolSize":576,"symbolStrokeWidth":1,"symbolOffset":11.2,"labelOffset":16.3,"labelFontSize":19.5,"labelColor":"black","rowPadding":5.3,"labelLimit":400,"labelExpr":"datum.label + '\u00a0\u00a0\u00a0\u00a0\u00a0'"}},
"shape":{"field":"pdf","type":"nominal","scale":{"domain":["PDF4LHC15_mc","PDF4LHC15_30","PDF4LHC15_100"],"range":[
"M-1.69,-0.92H1.69M-1.69,-0.84H1.69M-1.69,-0.76H1.69M-1.69,-0.68H1.69M-1.69,-0.6H1.69M-1.69,-0.52H1.69M-1.69,-0.44H1.69M-1.69,-0.36H1.69M-1.69,-0.28H1.69M-1.69,-0.2H1.69M-1.69,-0.12H1.69M-1.69,-0.04H1.69M-1.69,0.04H1.69M-1.69,0.12H1.69M-1.69,0.2H1.69M-1.69,0.28H1.69M-1.69,0.36H1.69M-1.69,0.44H1.69M-1.69,0.52H1.69M-1.69,0.6H1.69M-1.69,0.68H1.69M-1.69,0.76H1.69M-1.69,0.84H1.69M-1.69,0.92H1.69",
"M-1.69,0.56L-1.3,0.95M-1.69,0.185L-0.925,0.95M-1.69,-0.19L-0.55,0.95M-1.69,-0.565L-0.175,0.95M-1.69,-0.94L0.2,0.95M-1.325,-0.95L0.575,0.95M-0.95,-0.95L0.95,0.95M-0.575,-0.95L1.325,0.95M-0.2,-0.95L1.69,0.94M0.175,-0.95L1.69,0.565M0.55,-0.95L1.69,0.19M0.925,-0.95L1.69,-0.185M1.3,-0.95L1.69,-0.56M-1.69,-0.08H1.69V0.08H-1.69Z",
"M1.69,0.56L1.3,0.95M1.69,0.185L0.925,0.95M1.69,-0.19L0.55,0.95M1.69,-0.565L0.175,0.95M1.69,-0.94L-0.2,0.95M1.325,-0.95L-0.575,0.95M0.95,-0.95L-0.95,0.95M0.575,-0.95L-1.325,0.95M0.2,-0.95L-1.69,0.94M-0.175,-0.95L-1.69,0.565M-0.55,-0.95L-1.69,0.19M-0.925,-0.95L-1.69,-0.185M-1.3,-0.95L-1.69,-0.56M-1.69,-0.08H1.69V0.08H-1.69Z"]},
"legend":{"orient":"none","legendX":7,"legendY":3,"title":null,"padding":5,"strokeColor":"black","fillColor":"white","symbolSize":576,"symbolStrokeWidth":1,"symbolOffset":11.2,"labelOffset":16.3,"labelFontSize":19.5,"labelColor":"black","rowPadding":5.3,"labelLimit":400,"labelExpr":"datum.label + '\u00a0\u00a0\u00a0\u00a0\u00a0'"}}}}
]
}
],
"config":{
"font":"Liberation Sans",
"view":{"stroke":"black","strokeWidth":1,"fill":"white"},
"axis":{"domain":false,"grid":false,"tickColor":"black","tickWidth":1,"labelColor":"black","titleColor":"black","titleFontWeight":"normal","labelFont":"Liberation Sans","titleFont":"Liberation Sans","labelFlush":false,"labelOverlap":false},
"title":{"font":"Liberation Sans","fontSize":18.5,"fontWeight":"normal","color":"black","anchor":"middle","frame":"group","baseline":"alphabetic"},
"legend":{"labelFont":"Liberation Sans"}
}
}
